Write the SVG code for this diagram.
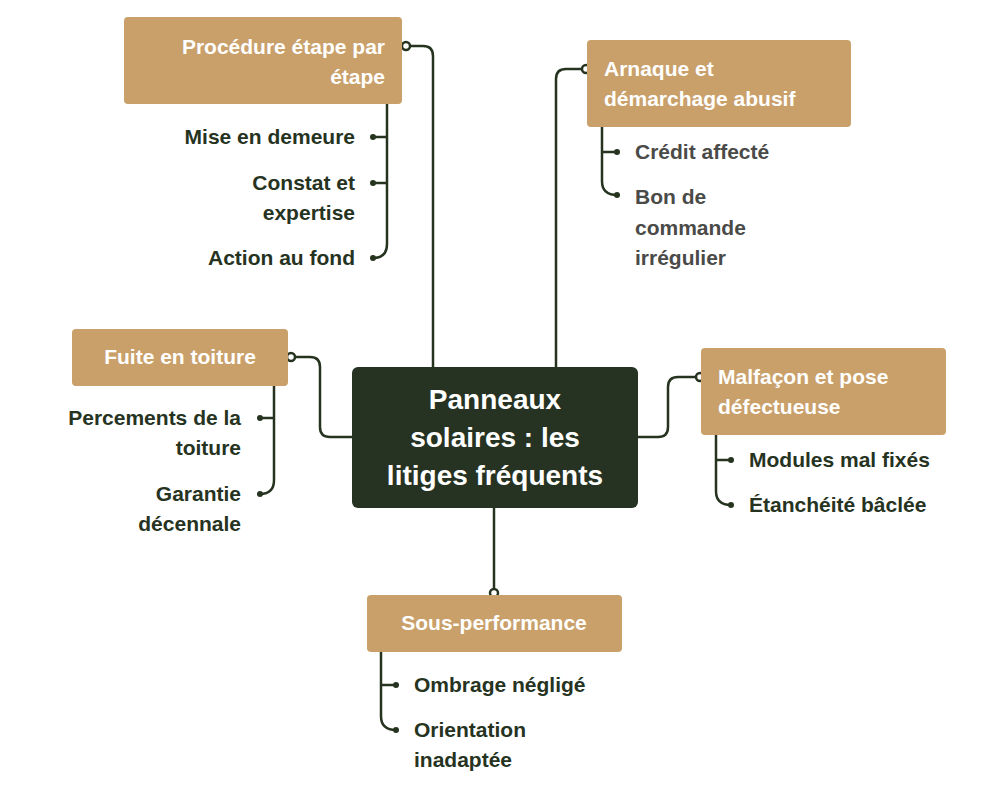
<svg xmlns="http://www.w3.org/2000/svg" width="1000" height="788" viewBox="0 0 1000 788">
<style>
.box{fill:#C9A06A}
.w{fill:#fff;font-family:"Liberation Sans",Arial,sans-serif;font-weight:bold;font-size:21px}
.c{fill:#fff;font-family:"Liberation Sans",Arial,sans-serif;font-weight:bold;font-size:28px;text-anchor:middle}
.t{fill:#26331f;font-family:"Liberation Sans",Arial,sans-serif;font-weight:bold;font-size:21px}
.g{fill:#4a4a48}
.r{text-anchor:end}
.ln{fill:none;stroke:#26331f;stroke-width:2.5}
.oc{fill:#fff;stroke:#26331f;stroke-width:2.5}
.dt{fill:#26331f}
</style>
<rect width="1000" height="788" fill="#fff"/>
<g id="connectors">
<path class="ln" d="M406 46 H423 Q433 46 433 56 V367"/>
<path class="ln" d="M586 69 H566 Q556 69 556 79 V367"/>
<path class="ln" d="M291 357 H310 Q320 357 320 367 V427 Q320 437 330 437 H352"/>
<path class="ln" d="M700 377 H678 Q668 377 668 387 V427 Q668 437 658 437 H638"/>
<path class="ln" d="M494 508 V593"/>
<path class="ln" d="M387 104 V244 Q387 258 373 258 M387 137 H373 M387 183 H373"/>
<path class="ln" d="M602 127 V181 Q602 195 617 195 M602 152 H617"/>
<path class="ln" d="M274 386 V480 Q274 494 260 494 M274 418 H260"/>
<path class="ln" d="M716 435 V491 Q716 505 731 505 M716 460 H731"/>
<path class="ln" d="M381 652 V716 Q381 730 396 730 M381 685 H396"/>
<circle class="oc" cx="406" cy="46" r="4"/>
<circle class="oc" cx="586" cy="69" r="4"/>
<circle class="oc" cx="291" cy="357" r="4"/>
<circle class="oc" cx="700" cy="377" r="4"/>
<circle class="oc" cx="494" cy="593" r="4"/>
<g class="dt">
<circle cx="373" cy="137" r="3"/><circle cx="373" cy="183" r="3"/><circle cx="373" cy="258" r="3"/>
<circle cx="617" cy="152" r="3"/><circle cx="617" cy="195" r="3"/>
<circle cx="260" cy="418" r="3"/><circle cx="260" cy="494" r="3"/>
<circle cx="731" cy="460" r="3"/><circle cx="731" cy="505" r="3"/>
<circle cx="396" cy="685" r="3"/><circle cx="396" cy="730" r="3"/>
</g>
</g>
<g id="center">
<rect x="352" y="367" width="286" height="141" rx="6" fill="#263322"/>
<text class="c" x="495" y="409">Panneaux</text>
<text class="c" x="495" y="447">solaires : les</text>
<text class="c" x="495" y="485">litiges fréquents</text>
</g>
<g id="procedure">
<rect class="box" x="124" y="17" width="278" height="87" rx="4"/>
<text class="w r" x="385" y="54">Procédure étape par</text>
<text class="w r" x="385" y="84">étape</text>
<text class="t r" x="355" y="144">Mise en demeure</text>
<text class="t r" x="355" y="190">Constat et</text>
<text class="t r" x="355" y="220">expertise</text>
<text class="t r" x="355" y="265">Action au fond</text>
</g>
<g id="arnaque">
<rect class="box" x="587" y="40" width="264" height="87" rx="4"/>
<text class="w" x="604" y="76">Arnaque et</text>
<text class="w" x="604" y="106">démarchage abusif</text>
<text class="t g" x="635" y="159">Crédit affecté</text>
<text class="t g" x="635" y="204">Bon de</text>
<text class="t g" x="635" y="235">commande</text>
<text class="t g" x="635" y="265">irrégulier</text>
</g>
<g id="fuite">
<rect class="box" x="72" y="329" width="216" height="57" rx="4"/>
<text class="w" x="180" y="364" text-anchor="middle">Fuite en toiture</text>
<text class="t r" x="241" y="425">Percements de la</text>
<text class="t r" x="241" y="455">toiture</text>
<text class="t r" x="241" y="501">Garantie</text>
<text class="t r" x="241" y="531">décennale</text>
</g>
<g id="malfacon">
<rect class="box" x="701" y="348" width="245" height="87" rx="4"/>
<text class="w" x="718" y="384">Malfaçon et pose</text>
<text class="w" x="718" y="414">défectueuse</text>
<text class="t" x="749" y="467">Modules mal fixés</text>
<text class="t" x="749" y="512">Étanchéité bâclée</text>
</g>
<g id="sousperf">
<rect class="box" x="367" y="595" width="255" height="57" rx="4"/>
<text class="w" x="494" y="630" text-anchor="middle">Sous-performance</text>
<text class="t" x="414" y="692">Ombrage négligé</text>
<text class="t" x="414" y="737">Orientation</text>
<text class="t" x="414" y="767">inadaptée</text>
</g>
</svg>
